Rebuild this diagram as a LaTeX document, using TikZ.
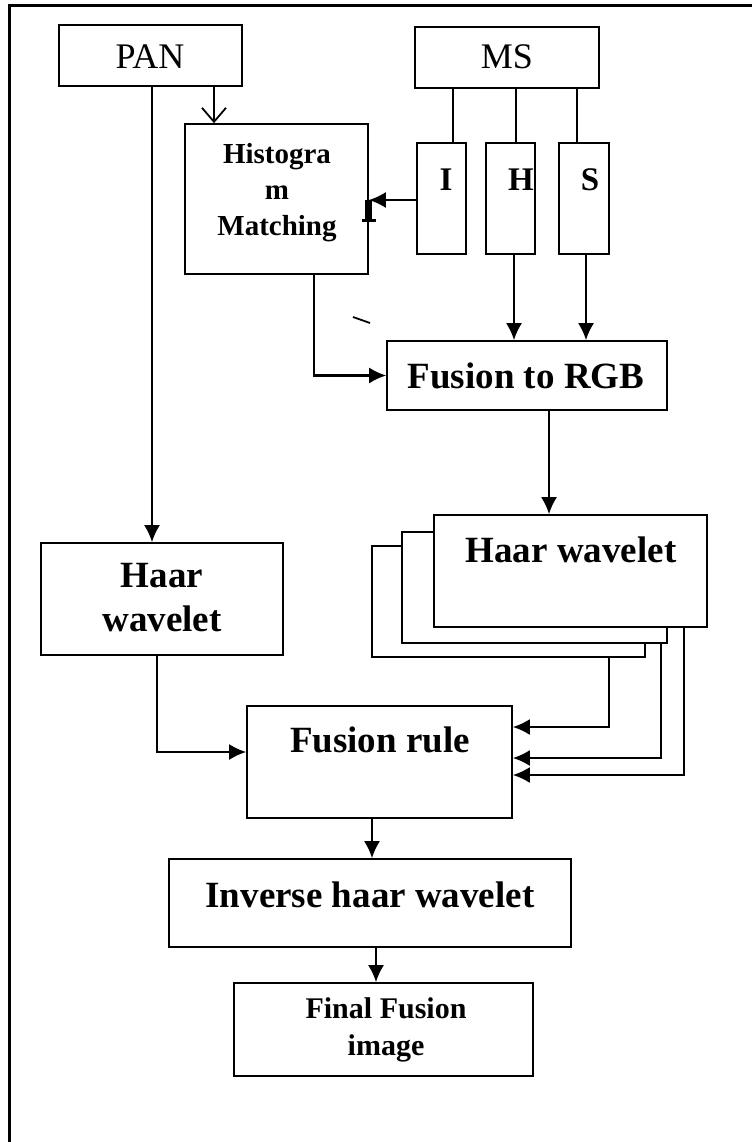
\documentclass[tikz,border=0pt]{standalone}
\usepackage{fontspec}
\setmainfont{Liberation Serif}
\usetikzlibrary{arrows.meta}
\tikzset{
  box/.style={draw, line width=1.6pt, fill=white, inner sep=0pt},
  txt/.style={inner sep=0pt, align=center},
  conn/.style={line width=2.2pt},
  arr/.style={line width=2.2pt, -{Latex[length=17pt,width=16pt]}},
  openarr/.style={line width=1.8pt, -{Straight Barb[length=14pt,width=24pt,line width=1.8pt]}},
  big/.style={font=\fontsize{37}{44}\selectfont\bfseries},
  mid/.style={font=\fontsize{30}{37}\selectfont\bfseries},
}
\begin{document}
\begin{tikzpicture}[x=1pt,y=-1pt]
\useasboundingbox (0,0) rectangle (752,1142);
% frame
\draw[line width=3pt] (9,1142) -- (9,6) -- (752,6);

% boxes
\node[box, minimum width=183pt, minimum height=61pt] (pan) at (150.5,55.5) {};
\node[box, minimum width=184pt, minimum height=61pt] (ms) at (507,57.5) {};
\node[box, minimum width=49pt, minimum height=111pt] (ibox) at (441.5,198.5) {};
\node[box, minimum width=49pt, minimum height=111pt] (hbox) at (510.5,198.5) {};
\node[box, minimum width=50pt, minimum height=111pt] (sbox) at (584,198.5) {};
\node[box, minimum width=183pt, minimum height=150pt] (hist) at (276.5,199) {};
\node[box, minimum width=280pt, minimum height=69pt] (rgb) at (527,375.5) {};
\node[box, minimum width=273pt, minimum height=111pt] (hw3) at (508.5,601.5) {};
\node[box, minimum width=265pt, minimum height=111pt] (hw2) at (534.5,587.5) {};
\node[box, minimum width=273pt, minimum height=112pt] (hw1) at (570.5,571) {};
\node[box, minimum width=242pt, minimum height=112pt] (hwl) at (162,599) {};
\node[box, minimum width=265pt, minimum height=112pt] (frule) at (379.5,762) {};
\node[box, minimum width=402pt, minimum height=88pt] (inv) at (370,903) {};
\node[box, minimum width=299pt, minimum height=93pt] (final) at (383.5,1029.5) {};

% texts
\node[txt, font=\fontsize{36}{43}\selectfont] (tpan) at (150,57) {PAN};
\node[txt, font=\fontsize{36}{43}\selectfont] (tms) at (507,57) {MS};
\node[txt, font=\fontsize{33}{40}\selectfont\bfseries] (ti) at (446,180) {I};
\node[txt, font=\fontsize{33}{40}\selectfont\bfseries] (th) at (521,180) {H};
\node[txt, font=\fontsize{33}{40}\selectfont\bfseries] (ts) at (590,180) {S};
\node[txt, font=\fontsize{29}{36}\selectfont\bfseries] (thist) at (277,193) {Histogra\\m\\Matching};
\node[txt, big] (trgb) at (526,376) {Fusion to RGB};
\node[txt, big] (thw1) at (571,550) {Haar wavelet};
\node[txt, big] (thwl) at (162,598) {Haar\\wavelet};
\node[txt, big] (tfrule) at (380,740) {Fusion rule};
\node[txt, big] (tinv) at (370,895) {Inverse haar wavelet};
\node[txt, mid] (tfinal) at (386,1030) {Final Fusion\\image};

% connectors
\draw[openarr] ([xshift=63.5pt]pan.south) -- ([xshift=63.5pt]pan.south |- hist.north);
\draw[arr] ([xshift=1.5pt]pan.south) -- ([xshift=1.5pt]pan.south |- hwl.north);
\draw[conn] ([xshift=-54pt]ms.south) -- ([xshift=-54pt]ms.south |- ibox.north);
\draw[conn] ([xshift=9pt]ms.south) -- ([xshift=9pt]ms.south |- hbox.north);
\draw[conn] ([xshift=70pt]ms.south) -- ([xshift=70pt]ms.south |- sbox.north);
\draw[arr] ([yshift=-1.5pt]ibox.west) -- ([yshift=-1.5pt]ibox.west -| hist.east);
\fill (365,200) rectangle (372,222);
\fill (362,219) rectangle (376,222);
\draw[arr] ([xshift=3.5pt]hbox.south) -- ([xshift=3.5pt]hbox.south |- rgb.north);
\draw[arr] ([xshift=2pt]sbox.south) -- ([xshift=2pt]sbox.south |- rgb.north);
\draw[arr] ([xshift=37.5pt]hist.south) |- (rgb.west);
\draw[line width=1.8pt] (353,317) -- (370,323);
\draw[arr] ([xshift=22pt]rgb.south) -- ([xshift=22pt]rgb.south |- hw1.north);
\draw[arr] ([xshift=-5pt]hwl.south) |- ([yshift=10pt]frule.west);
\draw[arr] ([xshift=100.5pt]hw3.south) |- ([yshift=35pt]frule.east);
\draw[arr] ([xshift=126.5pt]hw2.south) |- ([yshift=4pt]frule.east);
\draw[arr] ([xshift=113.5pt]hw1.south) |- ([yshift=-13pt]frule.east);
\draw[arr] ([xshift=-7.5pt]frule.south) -- ([xshift=-7.5pt]frule.south |- inv.north);
\draw[arr] ([xshift=6pt]inv.south) -- ([xshift=6pt]inv.south |- final.north);
\end{tikzpicture}
\end{document}
